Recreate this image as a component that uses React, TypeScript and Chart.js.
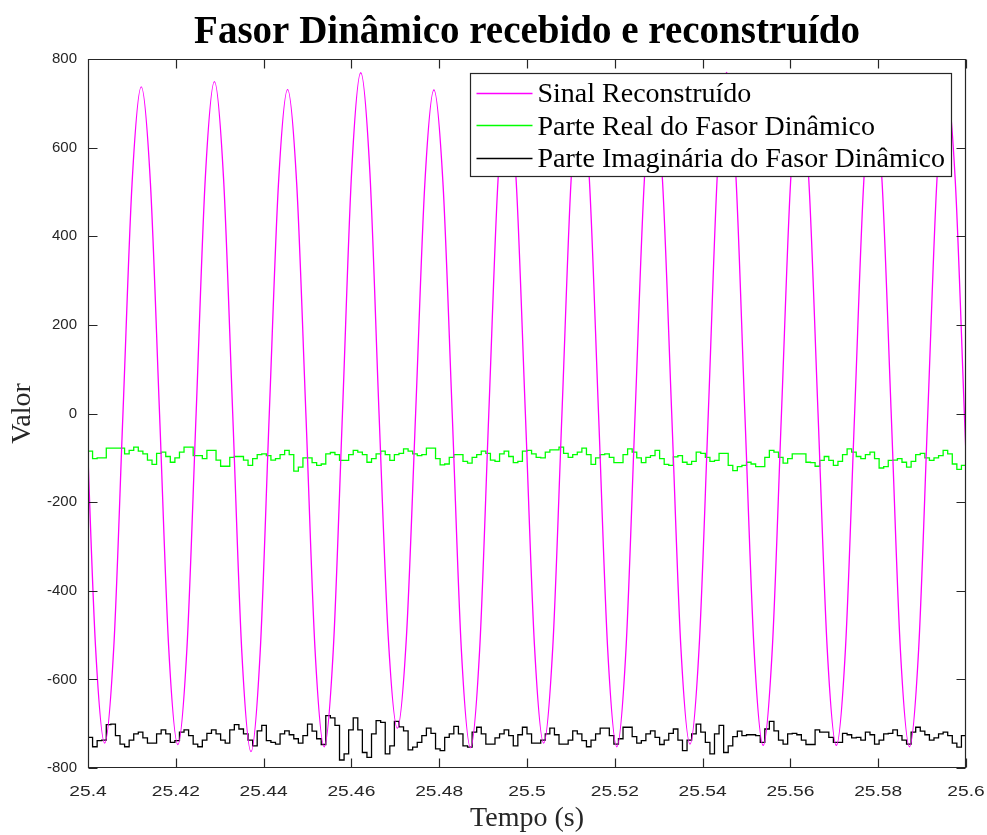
import React, { useEffect, useRef } from "react";
import { Chart, registerables } from "chart.js";

Chart.register(...registerables);

// ---------- texts ----------
const chartTitle = "Fasor Dinâmico recebido e reconstruído";
const xAxisTitle = "Tempo (s)";
const yAxisTitle = "Valor";
const seriesLabels = [
  "Sinal Reconstruído",
  "Parte Real do Fasor Dinâmico",
  "Parte Imaginária do Fasor Dinâmico",
];
const seriesColors = ["#ff00ff", "#00ff00", "#000000"];

// ---------- ticks ----------
const xTickValues = [25.4, 25.42, 25.44, 25.46, 25.48, 25.5, 25.52, 25.54, 25.56, 25.58, 25.6];
const xTickLabels = ["25.4", "25.42", "25.44", "25.46", "25.48", "25.5", "25.52", "25.54", "25.56", "25.58", "25.6"];
const yTickValues = [-800, -600, -400, -200, 0, 200, 400, 600, 800];
const yTickLabels = ["-800", "-600", "-400", "-200", "0", "200", "400", "600", "800"];

// ---------- reconstructed signal (sampled every 1/480 s) ----------
const signalStart = 25.39963;
const signalStep = 1 / 480;
const signalValues = [
  0, -526,
  -744, -526, 0, 521, 737, 521, 0, -528,
  -747, -528, 0, 530, 749, 530, 0, -540,
  -763, -540, 0, 517, 731, 517, 0, -532,
  -752, -532, 0, 544, 769, 544, 0, -502,
  -710, -502, 0, 516, 730, 516, 0, -533,
  -754, -533, 0, 523, 740, 523, 0, -526,
  -744, -526, 0, 527, 745, 527, 0, -532,
  -752, -532, 0, 523, 740, 523, 0, -527,
  -746, -527, 0, 544, 770, 544, 0, -530,
  -749, -530, 0, 523, 740, 523, 0, -530,
  -749, -530, 0, 523, 740, 523, 0, -532,
  -752, -532, 0, 527, 745, 527, 0, -530,
];

// ---------- phasor parts (held samples, every 0.2/192 s) ----------
const phasorStart = 25.4;
const phasorStep = 0.2 / 192;
const realValues = [
  -85, -102, -100, -100, -78, -78, -78, -78, -91, -83,
  -76, -85, -91, -105, -115, -90, -87, -97, -110, -100,
  -87, -76, -76, -95, -95, -102, -83, -83, -105, -119,
  -119, -99, -97, -97, -105, -117, -102, -93, -91, -95,
  -105, -102, -93, -83, -93, -130, -121, -100, -100, -111,
  -117, -114, -91, -88, -93, -106, -106, -93, -83, -87,
  -93, -110, -102, -91,
  -85, -93, -106, -93, -90, -80,
  -85, -91, -95, -93, -78, -78, -102, -116, -114, -99,
  -93, -93, -108, -112, -99, -93, -85, -90, -105, -108,
  -91, -85, -97, -111, -108, -85, -83, -91, -99, -100,
  -87, -82, -82, -76, -90, -99, -93, -87, -78, -93,
  -115, -100, -93, -91, -99, -111, -111, -93, -80, -87,
  -100, -111, -99, -95, -83, -102, -115, -117,
  -98,
  -95, -110, -115, -108, -87, -90, -99, -108, -106, -90, -90,
  -117, -129, -120, -117, -110, -114, -120, -120, -99, -83,
  -87, -99, -112, -102, -91, -91, -91, -110, -111, -119,
  -106, -97, -106, -117, -108, -93, -80, -87, -97, -102,
  -93, -87, -102, -123, -120, -106, -105, -102, -110, -121,
  -108, -93, -90, -100, -106, -100, -95, -83, -91, -114,
  -126, -117, -106,
];
const imagValues = [
  -731, -752, -738, -737, -702, -701, -727, -746, -752, -737,
  -723, -719, -732, -744, -744, -723, -714, -723, -742, -738,
  -719, -714, -727, -746, -752, -737, -722, -714, -723, -737,
  -744, -714, -702, -712, -723, -737, -750, -716, -704, -738,
  -742, -746, -723, -716, -725, -734, -744, -727, -701, -717,
  -734, -747, -682, -687, -704, -782, -768, -714, -687, -714,
  -765, -776, -723, -693,
  -697, -768, -750, -695, -707, -716,
  -759, -753, -742, -727, -710, -722, -757, -761, -731, -723,
  -706, -723, -750, -753, -719, -708, -723, -746, -746, -732,
  -723, -714, -727, -750, -725, -708, -723, -744, -744, -737,
  -723, -710, -725, -746, -746, -737, -716, -723, -738, -752,
  -737, -723, -710, -710, -727, -746, -734, -708, -708, -729,
  -744, -738, -723, -716, -731, -747, -737, -722,
  -712,
  -737, -761, -737, -723, -701, -719, -742, -768, -723, -704, -765,
  -750, -729, -717, -727, -725, -725, -727, -742, -712, -695,
  -716, -737, -746, -723, -722, -725, -737, -747, -747, -714,
  -719, -719, -731, -742, -742, -722, -725, -732, -731, -737,
  -719, -725, -746, -737, -723, -722, -714, -727, -737, -746,
  -719, -708, -717, -725, -737, -732, -723, -719, -727, -744,
  -753, -727, -712,
];

const AXIS_COLOR = "#262626";
const SANS = '"Liberation Sans", Arial, Helvetica, sans-serif';
const SERIF = '"Liberation Serif", "Times New Roman", Times, serif';
const LINE_W = 1.3;

const matlabPlugin = {
  id: "matlabFrame",
  afterDatasetsDraw(chart: any) {
    const { ctx, chartArea, scales } = chart;
    const { left, right, top, bottom } = chartArea;
    const L = Math.round(left) + 0.5;
    const R = Math.round(right) - 0.5;
    const T = Math.round(top) + 0.5;
    const B = Math.round(bottom) - 0.5;
    ctx.save();
    ctx.strokeStyle = AXIS_COLOR;
    ctx.lineWidth = 1.2;
    ctx.beginPath();
    ctx.rect(L, T, R - L, B - T);
    const tl = 9;
    scales.x.ticks.forEach((t: any) => {
      const px = Math.round(scales.x.getPixelForValue(t.value)) + 0.5;
      ctx.moveTo(px, B);
      ctx.lineTo(px, B - tl);
      ctx.moveTo(px, T);
      ctx.lineTo(px, T + tl);
    });
    scales.y.ticks.forEach((t: any) => {
      const py = Math.round(scales.y.getPixelForValue(t.value)) + 0.5;
      ctx.moveTo(L, py);
      ctx.lineTo(L + tl, py);
      ctx.moveTo(R, py);
      ctx.lineTo(R - tl, py);
    });
    ctx.stroke();

    // x tick labels (slightly wide rendering, as in the reference)
    ctx.fillStyle = AXIS_COLOR;
    ctx.font = `15px ${SANS}`;
    ctx.textAlign = "center";
    ctx.textBaseline = "alphabetic";
    scales.x.ticks.forEach((t: any, i: number) => {
      const px = scales.x.getPixelForValue(t.value);
      ctx.save();
      ctx.translate(px, bottom + 28);
      ctx.scale(1.28, 1);
      ctx.fillText(xTickLabels[i], 0, 0);
      ctx.restore();
    });
    ctx.restore();
  },
  afterDraw(chart: any) {
    const { ctx, chartArea } = chart;
    const { left, right, top } = chartArea;
    ctx.save();
    // title
    ctx.fillStyle = "#000";
    ctx.font = `bold 39px ${SERIF}`;
    ctx.textAlign = "center";
    ctx.textBaseline = "alphabetic";
    ctx.fillText(chartTitle, (left + right) / 2, 43);

    // legend
    const bx = Math.round(right) - 496 + 0.5;
    const by = Math.round(top) + 14 + 0.5;
    const bw = 481;
    const bh = 103;
    ctx.fillStyle = "#ffffff";
    ctx.fillRect(bx, by, bw, bh);
    ctx.strokeStyle = AXIS_COLOR;
    ctx.lineWidth = 1.2;
    ctx.strokeRect(bx, by, bw, bh);
    ctx.font = `28px ${SERIF}`;
    ctx.textAlign = "left";
    ctx.textBaseline = "alphabetic";
    chart.data.datasets.forEach((ds: any, i: number) => {
      const rowY = by + 19 + i * 32.5;
      ctx.strokeStyle = seriesColors[i];
      ctx.lineWidth = LINE_W;
      ctx.beginPath();
      ctx.moveTo(bx + 6, Math.round(rowY) + 0.5);
      ctx.lineTo(bx + 62, Math.round(rowY) + 0.5);
      ctx.stroke();
      ctx.fillStyle = "#000";
      ctx.fillText(ds.label, bx + 67, rowY + 9.5);
    });
    ctx.restore();
  },
};

export default function App() {
  const canvasRef = useRef<HTMLCanvasElement | null>(null);

  useEffect(() => {
    document.body.style.margin = "0";
    const canvas = canvasRef.current;
    if (!canvas) return;

    const signalPoints = signalValues.map((v, i) => ({ x: signalStart + i * signalStep, y: v }));
    const realPoints = realValues.map((v, i) => ({ x: phasorStart + i * phasorStep, y: v }));
    const imagPoints = imagValues.map((v, i) => ({ x: phasorStart + i * phasorStep, y: v }));

    const chart = new Chart(canvas, {
      type: "line",
      data: {
        datasets: [
          {
            label: seriesLabels[0],
            data: signalPoints,
            borderColor: seriesColors[0],
            borderWidth: LINE_W,
            pointRadius: 0,
            cubicInterpolationMode: "monotone",
            fill: false,
          },
          {
            label: seriesLabels[1],
            data: realPoints,
            borderColor: seriesColors[1],
            borderWidth: LINE_W,
            pointRadius: 0,
            stepped: true,
            fill: false,
          },
          {
            label: seriesLabels[2],
            data: imagPoints,
            borderColor: seriesColors[2],
            borderWidth: LINE_W,
            pointRadius: 0,
            stepped: true,
            fill: false,
          },
        ],
      } as any,
      options: {
        responsive: false,
        animation: false,
        devicePixelRatio: 1,
        events: [],
        layout: { padding: { top: 59, right: 21, left: 0, bottom: 0 } },
        plugins: {
          legend: { display: false },
          title: { display: false },
          tooltip: { enabled: false },
        },
        scales: {
          x: {
            type: "linear",
            min: 25.4,
            max: 25.6,
            afterBuildTicks: (s: any) => {
              s.ticks = xTickValues.map((v) => ({ value: v }));
            },
            afterFit: (s: any) => {
              s.height = 67;
              s.paddingLeft = 0;
              s.paddingRight = 0;
            },
            grid: { display: false, drawTicks: false },
            border: { display: false },
            ticks: {
              display: false,
              autoSkip: false,
              maxRotation: 0,
              minRotation: 0,
            },
            title: {
              display: true,
              text: xAxisTitle,
              color: AXIS_COLOR,
              font: { family: SERIF, size: 28 },
              padding: { top: 0, bottom: 0 },
            },
          },
          y: {
            type: "linear",
            min: -800,
            max: 800,
            afterBuildTicks: (s: any) => {
              s.ticks = yTickValues.map((v) => ({ value: v }));
            },
            afterFit: (s: any) => {
              s.width = 88;
              s.paddingTop = 0;
              s.paddingBottom = 0;
            },
            grid: { display: false, drawTicks: false },
            border: { display: false },
            ticks: {
              autoSkip: false,
              padding: 11,
              color: AXIS_COLOR,
              font: { family: SANS, size: 15 },
              callback: (_v: any, i: number) => yTickLabels[i],
            },
            title: {
              display: true,
              text: yAxisTitle,
              color: AXIS_COLOR,
              font: { family: SERIF, size: 28 },
              padding: { top: 6, bottom: 0 },
            },
          },
        },
      } as any,
      plugins: [matlabPlugin],
    });

    return () => {
      chart.destroy();
    };
  }, []);

  return (
    <div style={{ position: "fixed", left: 0, top: 0, width: 987, height: 835, background: "#fff" }}>
      <canvas ref={canvasRef} width={987} height={835} style={{ display: "block" }} />
    </div>
  );
}
